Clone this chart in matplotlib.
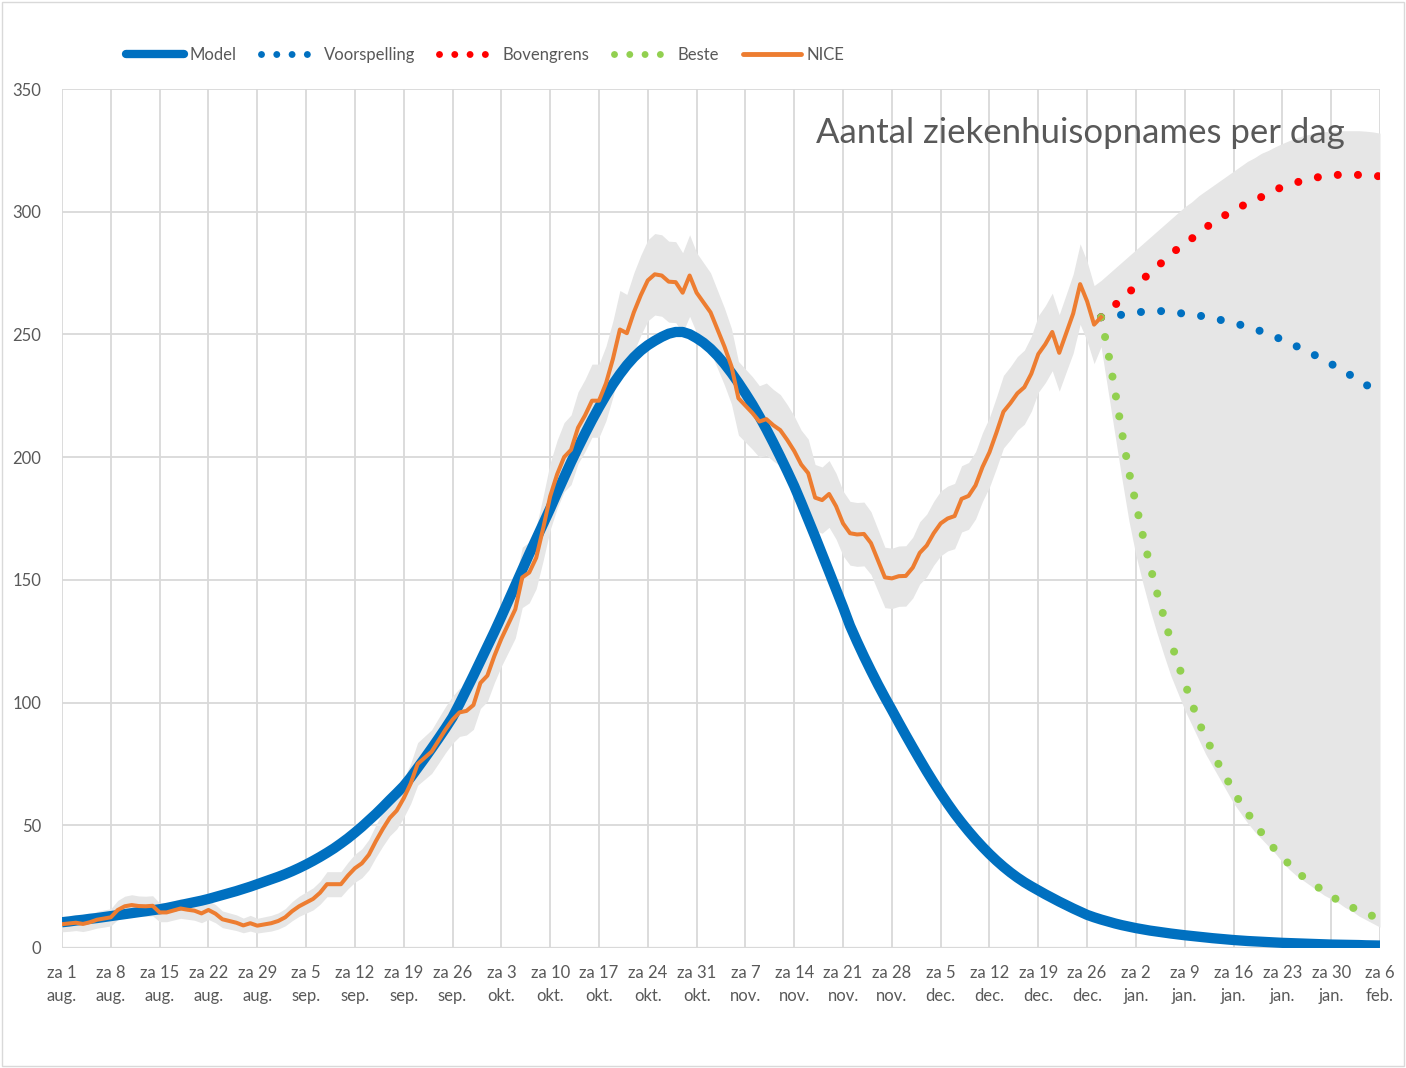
import matplotlib
matplotlib.use("Agg")
import matplotlib.pyplot as plt
import pandas as pd
from matplotlib.lines import Line2D
from matplotlib.patches import Rectangle

# daily values from 1 aug 2020
model = [
    10.5, 10.8, 11.2, 11.5, 11.9, 12.2, 12.6, 13.0, 13.4, 13.8,
    14.2, 14.6, 15.0, 15.4, 15.8, 16.3, 16.9, 17.5, 18.1, 18.7,
    19.3, 20.0, 20.8, 21.6, 22.4, 23.2, 24.1, 25.0, 26.0, 27.0,
    28.0, 29.0, 30.1, 31.3, 32.6, 34.0, 35.5, 37.1, 38.8, 40.6,
    42.6, 44.7, 47.0, 49.4, 52.0, 54.6, 57.4, 60.3, 63.1, 66.0,
    69.5, 73.4, 77.3, 81.3, 85.4, 89.6, 94.0, 99.5, 105.2, 111.0,
    116.9, 122.8, 128.8, 135.0, 141.4, 147.8, 154.2, 160.5, 166.7, 172.9,
    179.0, 185.5, 191.8, 198.0, 203.9, 209.6, 215.1, 220.3, 225.2, 229.7,
    233.8, 237.5, 240.7, 243.4, 245.6, 247.4, 249.0, 250.3, 251.0, 251.0,
    250.1, 248.5, 246.6, 244.2, 241.3, 238.0, 234.3, 230.3, 226.0, 221.5,
    216.6, 211.4, 205.9, 200.2, 194.3, 188.2, 181.5, 174.6, 167.6, 160.5,
    153.3, 146.1, 138.9, 131.3, 124.9, 118.8, 113.0, 107.4, 102.1, 97.0,
    91.8, 86.7, 81.7, 76.8, 72.0, 67.4, 63.0, 58.8, 54.8, 51.1,
    47.6, 44.3, 41.2, 38.3, 35.6, 33.1, 30.8, 28.7, 26.8, 25.1,
    23.5, 21.9, 20.4, 18.9, 17.5, 16.1, 14.8, 13.5, 12.5, 11.6,
    10.8, 10.0, 9.3, 8.7, 8.1, 7.6, 7.1, 6.7, 6.3, 5.9,
    5.55, 5.2, 4.9, 4.6, 4.3, 4.0, 3.75, 3.5, 3.25, 3.05,
    2.85, 2.7, 2.55, 2.4, 2.25, 2.1, 2.0, 1.9, 1.8, 1.7,
    1.6, 1.5, 1.4, 1.35, 1.3, 1.25, 1.2, 1.1, 1.05, 1.0,
]

nice = [
    9.7, 10.0, 10.3, 9.8, 10.5, 11.5, 12.0, 12.5, 15.5, 17.0,
    17.5, 17.1, 17.0, 17.2, 14.5, 14.5, 15.3, 16.1, 15.6, 15.2,
    14.1, 15.5, 14.0, 11.7, 11.0, 10.3, 9.2, 10.1, 9.1, 9.6,
    10.1, 11.0, 12.5, 15.0, 17.0, 18.5, 20.0, 22.5, 26.0, 26.0,
    26.0, 29.5, 32.5, 34.5, 38.0, 43.5, 48.5, 53.0, 56.0, 61.0,
    67.0, 75.0, 77.5, 80.0, 84.5, 89.0, 93.0, 96.0, 96.6, 99.0,
    108.0, 111.0, 119.0, 126.0, 132.0, 138.0, 151.0, 153.0, 159.0, 171.0,
    184.0, 193.0, 200.0, 203.0, 212.0, 217.0, 223.0, 223.0, 230.0, 240.0,
    252.0, 250.5, 259.0, 266.0, 272.0, 274.5, 274.0, 271.5, 271.3, 267.0,
    274.0, 267.0, 263.0, 259.0, 252.0, 245.0, 237.0, 224.0, 221.0, 218.0,
    214.5, 215.5, 213.0, 211.0, 207.0, 202.5, 197.0, 193.5, 183.5, 182.5,
    185.0, 180.0, 173.0, 169.0, 168.5, 168.7, 165.0, 158.0, 151.0, 150.6,
    151.5, 151.6, 155.0, 161.0, 164.0, 169.0, 173.0, 175.0, 176.0, 183.0,
    184.2, 188.5, 196.0, 202.0, 210.0, 218.5, 222.0, 226.0, 228.5, 234.0,
    242.0, 246.0, 251.0, 242.5, 250.5, 258.5, 270.5, 263.5, 254.0, 257.0,
]

# grey band: around NICE, then the forecast cone
band_lo = [
    6.6, 6.8, 7.1, 6.7, 7.3, 8.1, 8.5, 9.0, 11.6, 12.9,
    13.3, 13.0, 12.9, 13.1, 10.7, 10.7, 11.4, 12.1, 11.7, 11.3,
    10.3, 11.6, 10.3, 8.3, 7.7, 7.1, 6.2, 6.9, 6.1, 6.5,
    6.9, 7.7, 9.0, 11.1, 12.9, 14.2, 15.5, 17.8, 20.9, 20.9,
    20.9, 24.1, 26.8, 28.6, 31.8, 36.9, 41.5, 45.7, 48.5, 53.2,
    58.8, 66.3, 68.7, 71.1, 75.3, 79.6, 83.4, 86.2, 86.8, 89.1,
    97.6, 100.5, 108.1, 114.8, 120.5, 126.3, 138.7, 140.6, 146.4, 157.9,
    170.4, 179.1, 185.9, 188.8, 197.4, 202.3, 208.1, 208.1, 214.8, 224.5,
    236.1, 234.7, 242.9, 249.7, 255.5, 257.9, 257.4, 255.0, 254.8, 250.7,
    257.4, 250.7, 246.8, 242.9, 236.1, 229.3, 221.6, 209.0, 206.1, 203.2,
    199.9, 200.8, 198.4, 196.5, 192.6, 188.3, 183.0, 179.6, 170.0, 169.0,
    171.4, 166.6, 159.8, 156.0, 155.5, 155.7, 152.2, 145.4, 138.7, 138.3,
    139.2, 139.3, 142.6, 148.3, 151.2, 156.0, 159.8, 161.8, 162.7, 169.5,
    170.6, 174.8, 182.0, 187.8, 195.5, 203.7, 207.1, 211.0, 213.4, 218.7,
    226.4, 230.3, 235.2, 226.9, 234.7, 242.4, 254.1, 247.3, 238.1, 245.0,
    227.0, 209.0, 191.0, 174.0, 160.0, 148.6, 138.0, 128.5, 119.5, 111.0,
    104.0, 97.0, 91.0, 85.0, 79.0, 74.0, 69.0, 64.0, 59.0, 55.0,
    51.0, 47.5, 44.5, 41.5, 38.5, 35.0, 32.0, 29.5, 27.5, 25.5,
    23.5, 21.5, 20.0, 18.5, 16.5, 15.0, 13.0, 11.5, 10.0, 8.5,
]
band_hi = [
    12.8, 13.2, 13.5, 12.9, 13.7, 14.9, 15.5, 16.0, 19.4, 21.1,
    21.7, 21.2, 21.1, 21.3, 18.3, 18.3, 19.2, 20.1, 19.5, 19.1,
    17.9, 19.4, 17.7, 15.1, 14.3, 13.5, 12.2, 13.3, 12.1, 12.7,
    13.3, 14.3, 16.0, 18.9, 21.1, 22.8, 24.5, 27.2, 31.1, 31.1,
    31.1, 34.9, 38.2, 40.4, 44.2, 50.1, 55.5, 60.3, 63.5, 68.8,
    75.2, 83.7, 86.3, 88.9, 93.7, 98.4, 102.6, 105.8, 106.4, 108.9,
    118.4, 121.5, 129.9, 137.2, 143.5, 149.7, 163.3, 165.4, 171.6, 184.1,
    197.6, 206.9, 214.1, 217.2, 226.6, 231.7, 237.9, 237.9, 245.2, 255.5,
    267.9, 266.3, 275.1, 282.3, 288.5, 291.1, 290.6, 288.0, 287.8, 283.3,
    290.6, 283.3, 279.2, 275.1, 267.9, 260.7, 252.4, 239.0, 235.9, 232.8,
    229.1, 230.2, 227.6, 225.5, 221.4, 216.7, 211.0, 207.4, 197.0, 196.0,
    198.6, 193.4, 186.2, 182.0, 181.5, 181.7, 177.8, 170.6, 163.3, 162.9,
    163.8, 163.9, 167.4, 173.7, 176.8, 182.0, 186.2, 188.2, 189.3, 196.5,
    197.8, 202.2, 210.0, 216.2, 224.5, 233.3, 236.9, 241.0, 243.6, 249.3,
    257.6, 261.7, 266.8, 258.1, 266.3, 274.6, 286.9, 279.7, 269.9, 272.0,
    274.5, 277.0, 279.5, 282.0, 284.5, 287.0, 289.5, 292.0, 294.5, 297.0,
    299.5, 302.0, 304.0, 306.5, 308.5, 310.5, 312.5, 314.5, 316.5, 318.5,
    320.5, 322.0, 323.8, 325.0, 326.5, 327.8, 329.0, 330.0, 331.0, 331.6,
    332.2, 332.6, 332.8, 333.0, 333.0, 333.0, 333.0, 332.8, 332.5, 332.0,
]

# forecasts from 28 dec
voorspelling = [
    257, 257.5, 257.8, 258, 258.5, 259, 259.2, 259.4, 259.5, 259.5,
    259.2, 258.8, 258.4, 258, 257.7, 257.2, 256.7, 256, 255.3, 254.6,
    253.9, 253, 252.3, 251.2, 250, 249, 247.8, 246.5, 245.2, 244,
    242.6, 241, 239.5, 238, 236.3, 234.7, 233, 231.3, 229.5, 227.8, 226,
]
bovengrens = [
    257, 259.5, 262, 264.5, 267, 270, 272.5, 275, 277.5, 280,
    282.5, 285, 287, 289, 291.5, 293.5, 295.5, 297, 299, 300.5,
    302, 303.5, 305, 306, 307.5, 309, 310, 311, 312, 312.5,
    313.5, 314, 314.5, 315, 315, 315, 315, 315, 315, 314.5, 314.5,
]
beste = [
    257, 243, 227, 210, 194, 181, 168, 156, 145, 135,
    125, 116, 108, 100, 92, 86, 80, 74, 69, 64,
    59, 55, 51, 47, 43, 40, 37, 34, 31, 29,
    27, 25, 23, 21, 19.5, 18, 16.5, 15.5, 14, 13, 12,
]

tick_labels = [
    "za 1\naug.", "za 8\naug.", "za 15\naug.", "za 22\naug.", "za 29\naug.",
    "za 5\nsep.", "za 12\nsep.", "za 19\nsep.", "za 26\nsep.",
    "za 3\nokt.", "za 10\nokt.", "za 17\nokt.", "za 24\nokt.", "za 31\nokt.",
    "za 7\nnov.", "za 14\nnov.", "za 21\nnov.", "za 28\nnov.",
    "za 5\ndec.", "za 12\ndec.", "za 19\ndec.", "za 26\ndec.",
    "za 2\njan.", "za 9\njan.", "za 16\njan.", "za 23\njan.", "za 30\njan.",
    "za 6\nfeb.",
]

start = pd.Timestamp("2020-08-01")
forecast_start = pd.Timestamp("2020-12-28")
model_dates = pd.date_range(start, periods=len(model))
nice_dates = pd.date_range(start, periods=len(nice))
band_dates = pd.date_range(start, periods=len(band_lo))
fc_dates = pd.date_range(forecast_start, periods=len(voorspelling))
tick_dates = pd.date_range(start, periods=len(tick_labels), freq="7D")

plt.rcParams["font.family"] = ["Lato", "DejaVu Sans"]
txt = "#595959"
grid = "#d9d9d9"

W, H = 1406, 1068
fig = plt.figure(figsize=(W / 100, H / 100), dpi=100)
ax = fig.add_axes([62 / W, 1 - 948 / H, (1380 - 62) / W, (948 - 89) / H])

ax.fill_between(band_dates, band_lo, band_hi, color="#e6e6e6", lw=0, zorder=1)
ax.plot(model_dates, model, color="#0070c0", lw=7.4, solid_capstyle="butt",
        zorder=3, label="Model")

dot = (0, (0.001, 2.5))
ax.plot(fc_dates, voorspelling, color="#0070c0", lw=5.8, ls=dot,
        dash_capstyle="round", zorder=4)
ax.plot(fc_dates, bovengrens, color="#ff0000", lw=5.8, ls=dot,
        dash_capstyle="round", zorder=4)
ax.plot(fc_dates, beste, color="#92d050", lw=5.8, ls=dot,
        dash_capstyle="round", zorder=4)
ax.plot(nice_dates, nice, color="#ed7d31", lw=2.9, zorder=5)

ax.set_xlim(start, tick_dates[-1])
ax.set_ylim(0, 350)
ax.set_yticks(range(0, 351, 50))
ax.set_xticks(tick_dates)
ax.set_xticklabels(tick_labels, linespacing=1.55)
ax.tick_params(length=0, labelsize=12, colors=txt)
ax.tick_params(axis="x", pad=12)
ax.tick_params(axis="y", pad=15)
ax.set_axisbelow(True)
ax.grid(True, color=grid, lw=1.3)
for s in ax.spines.values():
    s.set_visible(False)
ax.axhline(0, color=grid, lw=1.6, zorder=0.6)

ax.text(1345 / W, 1 - 133 / H, "Aantal ziekenhuisopnames per dag",
        transform=fig.transFigure, ha="right", va="center",
        fontsize=25, color=txt, zorder=6)

# legend with proxy handles
dot_small = (0, (0.001, 2.2))
handles = [
    Line2D([], [], color="#0070c0", lw=6, solid_capstyle="round"),
    Line2D([], [], color="#0070c0", lw=5, ls=dot_small, dash_capstyle="round"),
    Line2D([], [], color="#ff0000", lw=5, ls=dot_small, dash_capstyle="round"),
    Line2D([], [], color="#92d050", lw=5, ls=dot_small, dash_capstyle="round"),
    Line2D([], [], color="#ed7d31", lw=3.5, solid_capstyle="round"),
]
names = ["Model", "Voorspelling", "Bovengrens", "Beste", "NICE"]
leg = fig.legend(handles, names, loc="center", ncol=5, frameon=False,
                 bbox_to_anchor=(485 / W, 1 - 55 / H), fontsize=12,
                 handlelength=3.5, handletextpad=0.3, columnspacing=1.45)
for t in leg.get_texts():
    t.set_color(txt)

fig.patches.append(Rectangle((0.0015, 0.002), 0.997, 0.996,
                             transform=fig.transFigure, fill=False,
                             edgecolor=grid, lw=1))

fig.savefig("out.png", dpi=100)
